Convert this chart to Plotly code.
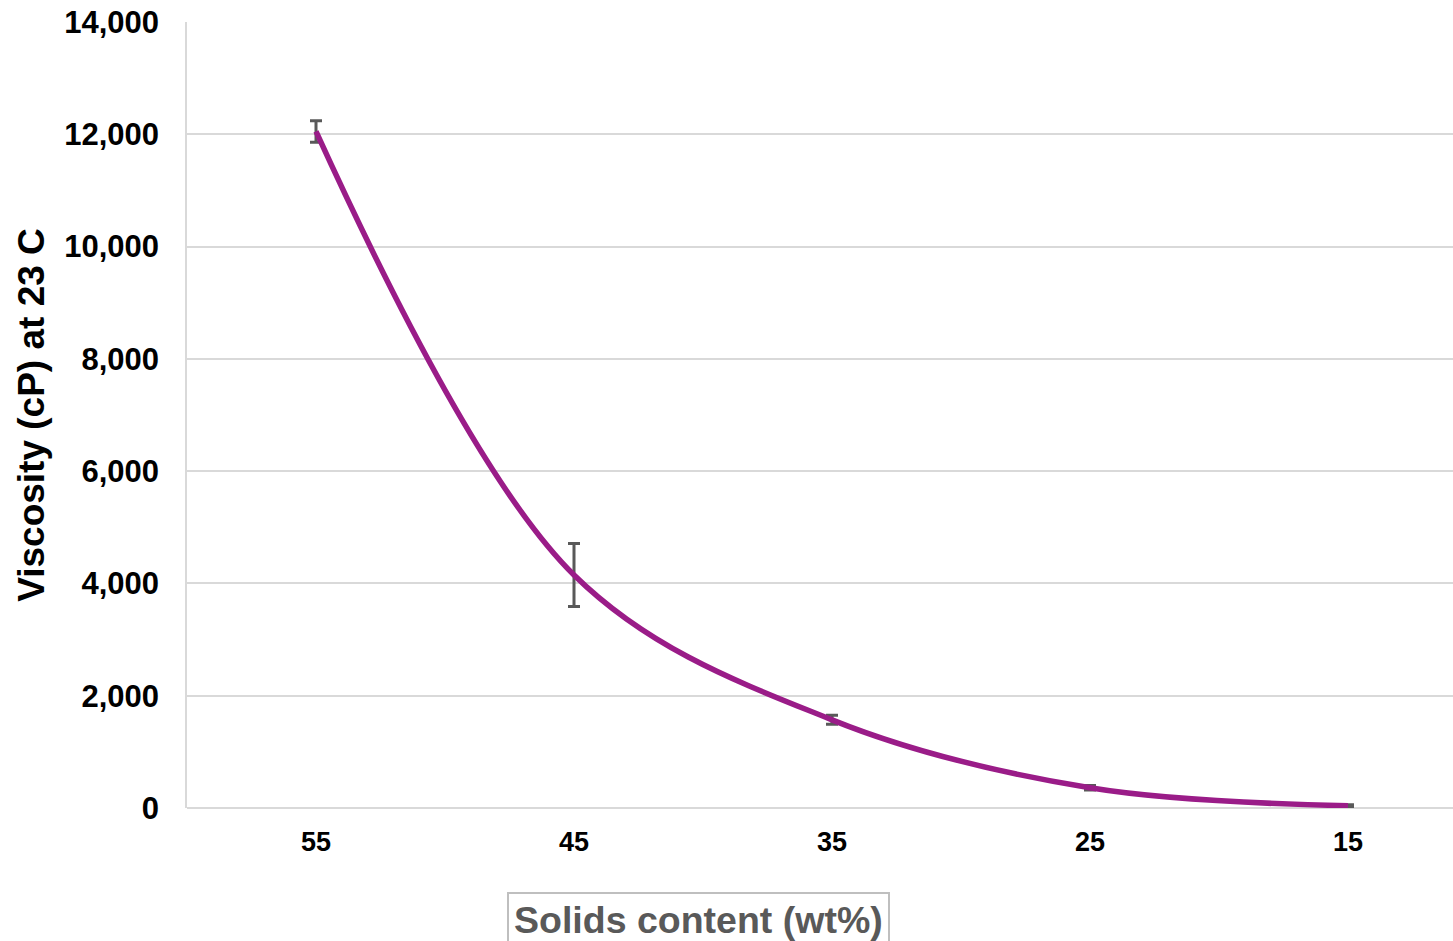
import plotly.graph_objects as go

categories = ["55", "45", "35", "25", "15"]
viscosity = [12050, 4150, 1570, 360, 40]
errors = [190, 560, 80, 40, 20]
y_ticks = [0, 2000, 4000, 6000, 8000, 10000, 12000, 14000]
y_ticklabels = ["0", "2,000", "4,000", "6,000", "8,000", "10,000", "12,000", "14,000"]

xpos = list(range(len(categories)))
FONT = "Liberation Sans, Arial, sans-serif"

fig = go.Figure()
fig.add_trace(go.Scatter(
    x=xpos, y=viscosity, mode="lines",
    line=dict(color="#9A1C88", width=5.5, shape="spline", smoothing=1.0),
    error_y=dict(type="data", array=errors, visible=True, color="#595959",
                 thickness=3, width=6),
    showlegend=False,
))

fig.update_layout(
    width=1453, height=941,
    margin=dict(l=187, r=0, t=22, b=133),
    paper_bgcolor="white", plot_bgcolor="white",
    font=dict(family=FONT, color="black"),
    xaxis=dict(
        tickmode="array", tickvals=xpos, ticktext=categories,
        range=[-0.5, 4.407], showgrid=False, zeroline=False,
        showline=False, ticks="",
        tickfont=dict(size=27, color="black", family=FONT, weight="bold"),
        ticklabelstandoff=15,
    ),
    yaxis=dict(
        range=[0, 14000], tickmode="array", tickvals=y_ticks, ticktext=y_ticklabels,
        showgrid=True, gridcolor="#D9D9D9", gridwidth=1.5,
        zeroline=True, zerolinecolor="#D9D9D9", zerolinewidth=1.5,
        showline=True, linecolor="#D9D9D9", linewidth=1.5, ticks="",
        tickfont=dict(size=31, color="black", family=FONT, weight="bold"),
        ticklabelstandoff=20,
        title=dict(text="Viscosity (cP) at 23 C", standoff=8,
                   font=dict(size=37, color="black", family=FONT, weight="bold")),
    ),
)

fig.add_annotation(
    text="<b>Solids content (wt%)</b>", xref="paper", yref="paper",
    x=(698 - 187) / (1453 - 187), y=-(892 - 808) / (808 - 22),
    xanchor="center", yanchor="top", showarrow=False,
    font=dict(size=37.5, color="#595959", family=FONT),
    bordercolor="#BFBFBF", borderwidth=2, borderpad=5, bgcolor="white",
)

fig.write_html("out.html")
